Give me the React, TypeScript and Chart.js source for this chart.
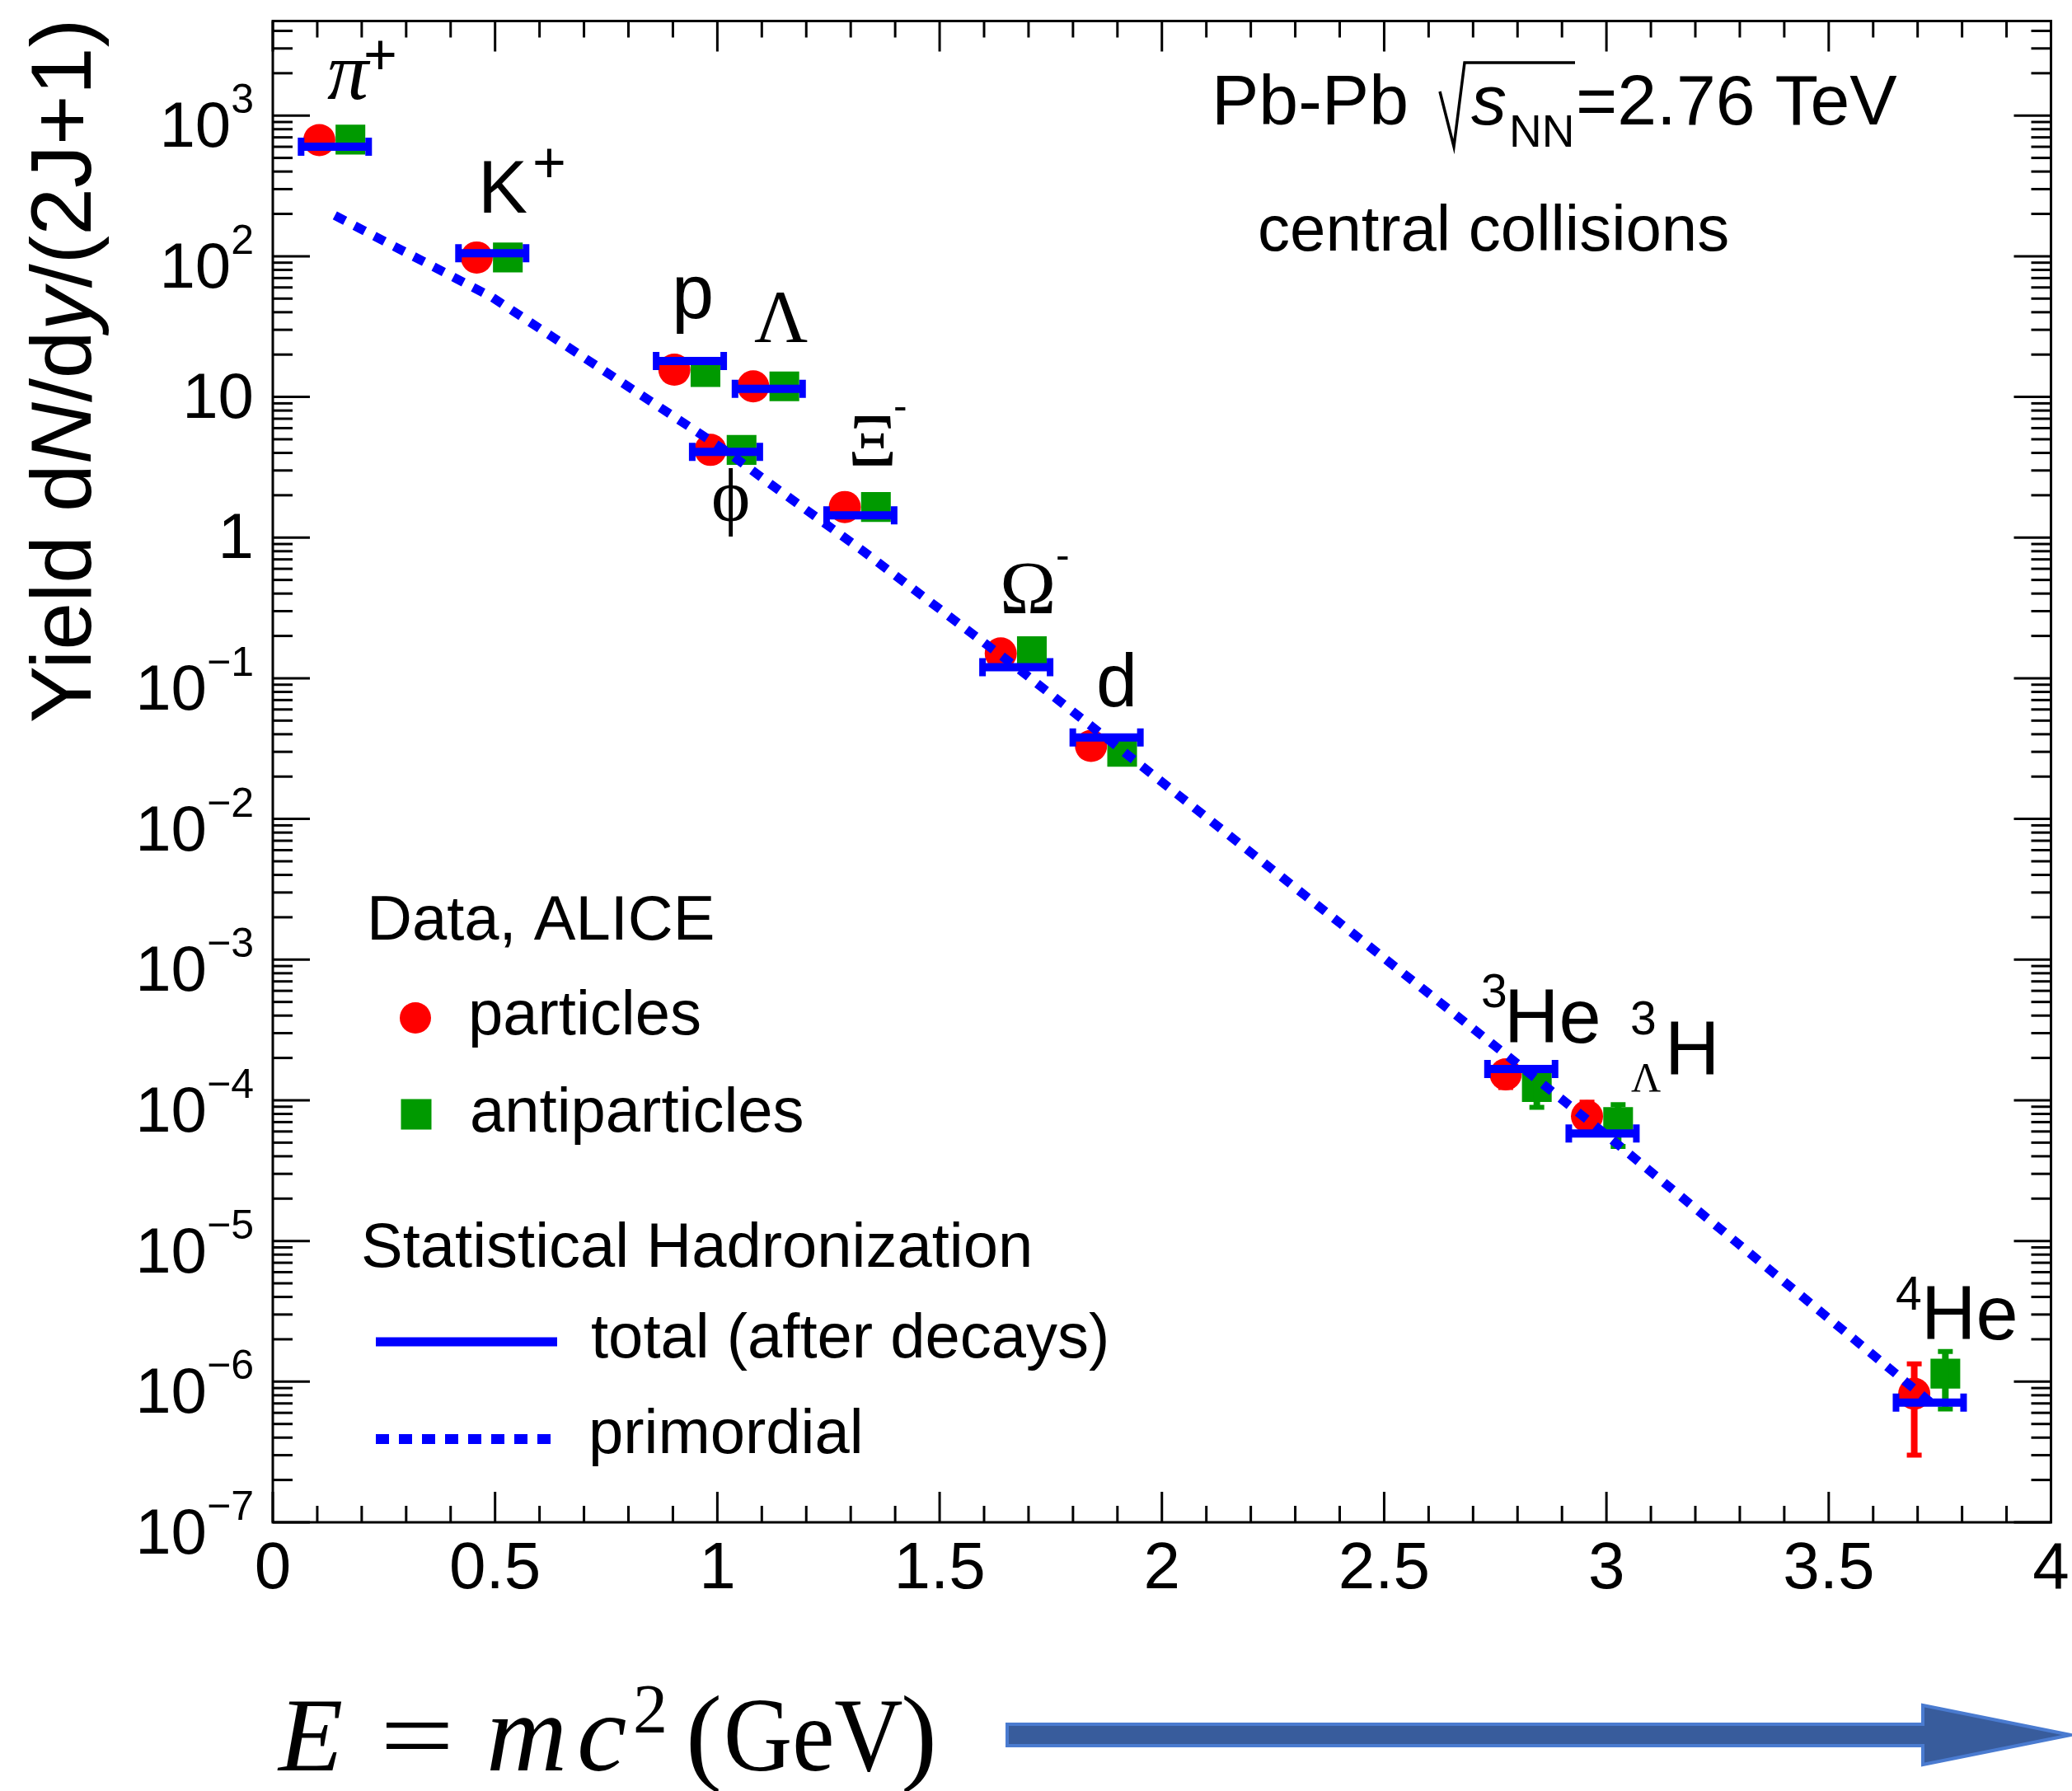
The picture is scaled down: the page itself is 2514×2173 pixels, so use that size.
import React, { useEffect, useRef } from 'react';
import { Chart, registerables } from 'chart.js';

Chart.register(...registerables);

// ---------------- data ----------------
const species = ['π+', 'K+', 'p', 'ϕ', 'Λ', 'Ξ−', 'Ω−', 'd', '3He', '3ΛH', '4He'];
const masses = [0.1396, 0.4937, 0.9383, 1.0195, 1.1157, 1.3217, 1.6725, 1.8756, 2.8084, 2.9913, 3.7274];
const particleYield = [670, 98, 15.6, 4.2, 11.9, 1.65, 0.15, 0.033, 1.53e-4, 7.7e-5, 8.2e-7];
const particleError = [0, 0, 0, 0, 0, 0, 0, 0, 0.3e-4, 0.2e-4, 5.2e-7];
const antiparticleYield = [675, 98, 15.0, 4.2, 11.9, 1.65, 0.156, 0.03, 1.24e-4, 7.0e-5, 1.14e-6];
const antiparticleError = [0, 0, 0, 0, 0, 0, 0, 0, 0.35e-4, 0.23e-4, 0.5e-6];
const totalYield = [600, 105, 18, 4.07, 11.4, 1.44, 0.12, 0.038, 1.67e-4, 5.8e-5, 7.1e-7];
const primordialYield = [195, 51, 6.1, 4.13, 2.45, 0.83, 0.12, 0.0375, 1.73e-4, 5.96e-5, 7.2e-7];

const xTickValues = [0, 0.5, 1, 1.5, 2, 2.5, 3, 3.5, 4];
const xTickLabels = ['0', '0.5', '1', '1.5', '2', '2.5', '3', '3.5', '4'];
const yTickExponents = [-7, -6, -5, -4, -3, -2, -1, 0, 1, 2, 3];

// ---------------- style ----------------
const W = 2514;
const H = 2173;
const SANS = '"Liberation Sans", Arial, Helvetica, sans-serif';
const SERIF = '"Liberation Serif", "Times New Roman", Times, serif';
const RED = '#ff0000';
const GREEN = '#009a00';
const BLUE = '#0000ff';
const MARKER_SHIFT = 0.035;
const MODEL_HALF_WIDTH = 0.076;

function buildBars() {
  const pts: any[] = [];
  masses.forEach((m, i) => {
    pts.push({ x: m - MODEL_HALF_WIDTH, y: totalYield[i] });
    pts.push({ x: m + MODEL_HALF_WIDTH, y: totalYield[i] });
    pts.push({ x: m, y: null });
  });
  return pts;
}

function buildErrors(values: number[], errors: number[], shift: number) {
  const pts: any[] = [];
  masses.forEach((m, i) => {
    if (errors[i] > 0) {
      pts.push({ x: m + shift, y: values[i] - errors[i] });
      pts.push({ x: m + shift, y: values[i] + errors[i] });
      pts.push({ x: m + shift, y: null });
    }
  });
  return pts;
}

function txt(
  ctx: CanvasRenderingContext2D,
  s: string,
  x: number,
  y: number,
  size: number,
  family: string = SANS,
  style: string = '',
  align: CanvasTextAlign = 'left',
  sx: number = 1
) {
  ctx.font = `${style ? style + ' ' : ''}${size}px ${family}`;
  ctx.textAlign = align;
  ctx.textBaseline = 'alphabetic';
  ctx.fillStyle = '#000';
  if (sx !== 1) {
    ctx.save();
    ctx.translate(x, y);
    ctx.scale(sx, 1);
    ctx.fillText(s, 0, 0);
    ctx.restore();
  } else {
    ctx.fillText(s, x, y);
  }
  return ctx.measureText(s).width * sx;
}

function measure(ctx: CanvasRenderingContext2D, s: string, size: number, family: string = SANS, style = '') {
  ctx.font = `${style ? style + ' ' : ''}${size}px ${family}`;
  return ctx.measureText(s).width;
}

function seg(ctx: CanvasRenderingContext2D, x1: number, y1: number, x2: number, y2: number) {
  ctx.beginPath();
  ctx.moveTo(x1, y1);
  ctx.lineTo(x2, y2);
  ctx.stroke();
}

const decorPlugin = {
  id: 'decor',
  beforeDraw(chart: any) {
    const ctx = chart.ctx as CanvasRenderingContext2D;
    ctx.save();
    ctx.fillStyle = '#ffffff';
    ctx.fillRect(0, 0, W, H);
    ctx.restore();
  },
  afterDraw(chart: any) {
    const ctx = chart.ctx as CanvasRenderingContext2D;
    const { left, right, top, bottom } = chart.chartArea;
    const xs = chart.scales.x;
    const ys = chart.scales.y;
    ctx.save();

    // frame
    ctx.strokeStyle = '#000';
    ctx.lineWidth = 3;
    ctx.lineCap = 'butt';
    ctx.strokeRect(left, top, right - left, bottom - top);

    // x ticks (bottom + top)
    for (let i = 0; i <= 40; i++) {
      const px = xs.getPixelForValue(i / 10);
      const L = i % 5 === 0 ? 37 : 20;
      seg(ctx, px, bottom, px, bottom - L);
      seg(ctx, px, top, px, top + L);
    }
    // y ticks (left + right)
    for (let e = -7; e <= 3; e++) {
      for (let s = 1; s <= 9; s++) {
        const v = s * Math.pow(10, e);
        if (v > ys.max) break;
        const py = ys.getPixelForValue(v);
        const L = s === 1 ? 45 : 24;
        seg(ctx, left, py, left + L, py);
        seg(ctx, right, py, right - L, py);
      }
    }

    // x tick labels
    xTickValues.forEach((v, i) => {
      txt(ctx, xTickLabels[i], xs.getPixelForValue(v), bottom + 80, 80, SANS, '', 'center');
    });

    // y tick labels
    const yRight = 308;
    yTickExponents.forEach((e) => {
      const py = ys.getPixelForValue(Math.pow(10, e));
      if (e === 0 || e === 1) {
        txt(ctx, e === 0 ? '1' : '10', yRight, py + 25, 78, SANS, '', 'right');
      } else {
        const expStr = e < 0 ? '\u2212' + Math.abs(e) : String(e);
        const wBase = measure(ctx, '10', 78);
        const wExp = measure(ctx, expStr, 50);
        const x0 = yRight - wBase - wExp;
        txt(ctx, '10', x0, py + 38, 78);
        txt(ctx, expStr, x0 + wBase, py - 3, 50);
      }
    });

    // y-axis title (rotated)
    ctx.save();
    ctx.translate(110, 450);
    ctx.rotate(-Math.PI / 2);
    const tParts: [string, string][] = [
      ['Yield d', ''],
      ['N', 'italic'],
      ['/d', ''],
      ['y', 'italic'],
      ['/(2J+1)', ''],
    ];
    const tSize = 104;
    let tw = 0;
    tParts.forEach(([s, st]) => (tw += measure(ctx, s, tSize, SANS, st)));
    let tx = -tw / 2;
    tParts.forEach(([s, st]) => {
      tx += txt(ctx, s, tx, 0, tSize, SANS, st);
    });
    ctx.restore();

    // header text
    txt(ctx, 'Pb-Pb', 1470, 151, 86);
    ctx.lineWidth = 3.5;
    ctx.beginPath();
    ctx.moveTo(1747, 111);
    ctx.lineTo(1764, 178);
    ctx.lineTo(1777, 76);
    ctx.lineTo(1911, 76);
    ctx.stroke();
    txt(ctx, 's', 1785, 151, 86, SANS, 'italic');
    txt(ctx, 'NN', 1831, 178, 55);
    txt(ctx, '=2.76 TeV', 1912, 151, 86);
    txt(ctx, 'central collisions', 1526, 304, 78);

    // species labels
    txt(ctx, 'π', 397, 120, 100, SERIF, 'italic');
    txt(ctx, '+', 441, 90, 70);
    txt(ctx, 'K', 580, 258, 90);
    txt(ctx, '+', 646, 221, 70);
    txt(ctx, 'p', 815, 386, 92);
    txt(ctx, 'Λ', 915, 415, 90, SERIF);
    txt(ctx, 'ϕ', 863, 632, 90, SERIF);
    txt(ctx, 'Ξ', 1029, 565, 92, SERIF);
    txt(ctx, '-', 1084, 509, 50);
    txt(ctx, 'Ω', 1213, 744, 92, SERIF);
    txt(ctx, '-', 1281, 690, 50);
    txt(ctx, 'd', 1330, 857, 90);
    txt(ctx, '3', 1797, 1222, 57);
    txt(ctx, 'He', 1825, 1265, 92);
    txt(ctx, '3', 1978, 1255, 57);
    txt(ctx, 'Λ', 1979, 1324, 50, SERIF);
    txt(ctx, 'H', 2020, 1304, 92);
    txt(ctx, '4', 2300, 1589, 57);
    txt(ctx, 'He', 2331, 1625, 92);

    // legend
    txt(ctx, 'Data, ALICE', 445, 1140, 76);
    ctx.fillStyle = RED;
    ctx.beginPath();
    ctx.arc(504, 1235, 19, 0, Math.PI * 2);
    ctx.fill();
    txt(ctx, 'particles', 568, 1255, 76);
    ctx.fillStyle = GREEN;
    ctx.fillRect(505 - 18.5, 1352 - 18.5, 37, 37);
    txt(ctx, 'antiparticles', 570, 1373, 76);
    txt(ctx, 'Statistical Hadronization', 438, 1537, 76);
    ctx.strokeStyle = BLUE;
    ctx.lineWidth = 11;
    seg(ctx, 456, 1628, 676, 1628);
    txt(ctx, 'total (after decays)', 717, 1647, 76);
    ctx.lineWidth = 12;
    ctx.setLineDash([16, 12]);
    seg(ctx, 456, 1746, 668, 1746);
    ctx.setLineDash([]);
    txt(ctx, 'primordial', 714, 1763, 76);

    // energy label under the chart
    txt(ctx, 'E', 338, 2148, 128, SERIF, 'italic');
    txt(ctx, '=', 506, 2148, 128, SERIF, '', 'center', 1.25);
    txt(ctx, 'm', 590, 2148, 136, SERIF, 'italic');
    txt(ctx, 'c', 700, 2148, 136, SERIF, 'italic');
    txt(ctx, '2', 768, 2102, 84, SERIF);
    txt(ctx, '(', 832, 2148, 132, SERIF);
    txt(ctx, 'GeV', 878, 2148, 128, SERIF, '', 'left', 0.9);
    txt(ctx, ')', 1093, 2148, 132, SERIF);

    // arrow
    ctx.beginPath();
    ctx.moveTo(1222, 2092);
    ctx.lineTo(2333, 2092);
    ctx.lineTo(2333, 2069);
    ctx.lineTo(2512, 2105);
    ctx.lineTo(2333, 2141);
    ctx.lineTo(2333, 2118);
    ctx.lineTo(1222, 2118);
    ctx.closePath();
    ctx.fillStyle = '#385c9c';
    ctx.fill();
    ctx.strokeStyle = '#4a7bd0';
    ctx.lineWidth = 4;
    ctx.lineJoin = 'miter';
    ctx.stroke();

    ctx.restore();
  },
};

export default function App() {
  const ref = useRef<HTMLCanvasElement | null>(null);

  useEffect(() => {
    if (!ref.current) return;
    const chart = new Chart(ref.current, {
      type: 'line',
      data: {
        datasets: [
          {
            label: 'primordial',
            data: masses.map((m, i) => ({ x: m, y: primordialYield[i] })),
            borderColor: BLUE,
            borderWidth: 11,
            borderDash: [14, 13],
            pointRadius: 0,
            tension: 0,
            fill: false,
            order: 0,
          },
          {
            label: 'total (after decays)',
            data: buildBars(),
            borderColor: BLUE,
            borderWidth: 10,
            pointStyle: 'line',
            pointRotation: 90,
            pointRadius: 11,
            pointBorderWidth: 8,
            pointBorderColor: BLUE,
            pointBackgroundColor: BLUE,
            spanGaps: false,
            tension: 0,
            fill: false,
            order: 1,
          },
          {
            label: 'antiparticle errors',
            data: buildErrors(antiparticleYield, antiparticleError, MARKER_SHIFT),
            borderColor: GREEN,
            borderWidth: 8,
            pointStyle: 'line',
            pointRadius: 9,
            pointBorderWidth: 6,
            pointBorderColor: GREEN,
            pointBackgroundColor: GREEN,
            spanGaps: false,
            fill: false,
            order: 2,
          },
          {
            label: 'particle errors',
            data: buildErrors(particleYield, particleError, -MARKER_SHIFT),
            borderColor: RED,
            borderWidth: 8,
            pointStyle: 'line',
            pointRadius: 9,
            pointBorderWidth: 6,
            pointBorderColor: RED,
            pointBackgroundColor: RED,
            spanGaps: false,
            fill: false,
            order: 3,
          },
          {
            label: 'antiparticles',
            data: masses.map((m, i) => ({ x: m + MARKER_SHIFT, y: antiparticleYield[i] })),
            showLine: false,
            pointStyle: 'rect',
            pointRadius: 25.5,
            pointBackgroundColor: GREEN,
            pointBorderWidth: 0,
            borderColor: GREEN,
            order: 4,
          },
          {
            label: 'particles',
            data: masses.map((m, i) => ({ x: m - MARKER_SHIFT, y: particleYield[i] })),
            showLine: false,
            pointStyle: 'circle',
            pointRadius: 19.5,
            pointBackgroundColor: RED,
            pointBorderWidth: 0,
            borderColor: RED,
            order: 5,
          },
        ] as any,
      },
      options: {
        animation: false,
        responsive: false,
        devicePixelRatio: 1,
        events: [],
        layout: { padding: { left: 331, right: 10, top: 17, bottom: 326 } },
        plugins: {
          legend: { display: false },
          tooltip: { enabled: false },
        },
        scales: {
          x: { type: 'linear', min: 0, max: 4, display: false },
          y: { type: 'logarithmic', min: 1e-7, max: 4700, display: false },
        },
      } as any,
      plugins: [decorPlugin],
    });
    return () => chart.destroy();
  }, []);

  return (
    <div style={{ position: 'absolute', left: 0, top: 0, width: W, height: H, background: '#fff' }}>
      <canvas ref={ref} width={W} height={H} style={{ display: 'block', width: W, height: H }} />
    </div>
  );
}
